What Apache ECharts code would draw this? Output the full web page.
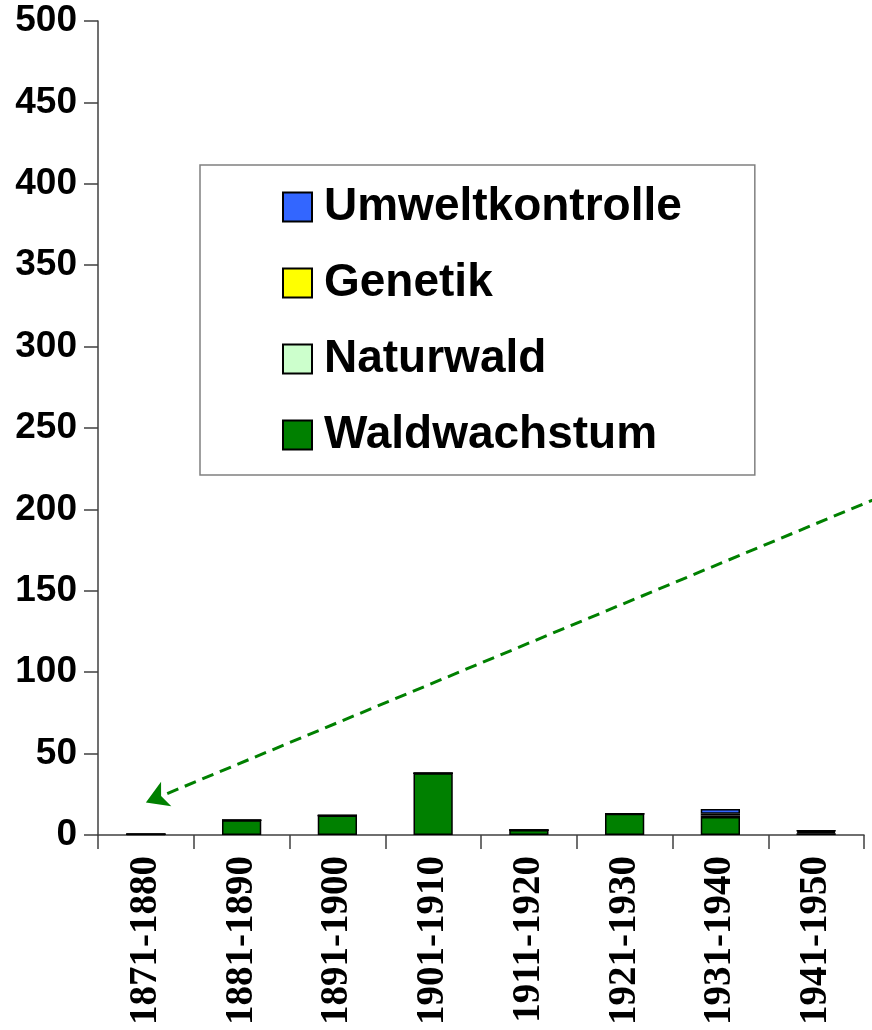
<!DOCTYPE html>
<html>
<head>
<meta charset="utf-8">
<script src="https://cdn.jsdelivr.net/npm/echarts@6/dist/echarts.min.js"></script>
<style>html,body{margin:0;padding:0;background:#fff;}#c{width:872px;height:1030px;}</style>
</head>
<body>
<div id="c"></div>
<script>
const categories = ['1871-1880','1881-1890','1891-1900','1901-1910','1911-1920','1921-1930','1931-1940','1941-1950'];
const waldwachstum = [0.5, 9, 12, 38, 3, 13, 11, 1];
const naturwald = [0, 0, 0, 0, 0, 0, 1, 0.8];
const genetik = [0, 0, 0, 0, 0, 0, 1, 0.8];
const umweltkontrolle = [0, 0, 0, 0, 0, 0, 3, 0];
const yTicks = [0, 50, 100, 150, 200, 250, 300, 350, 400, 450, 500];
const arrowEnd = ['1871-1880', 20];

const chart = echarts.init(document.getElementById('c'), null, {renderer: 'canvas'});
const border = {borderColor: '#000', borderWidth: 1.5};
function bar(name, data, color, extra) {
  return Object.assign({
    name, type: 'bar', stack: 'total', data, barWidth: '41%',
    itemStyle: Object.assign({color}, border),
    emphasis: {disabled: true}, animation: false
  }, extra || {});
}
chart.setOption({
  animation: false,
  grid: {left: 98, right: 8, top: 21, bottom: 195, containLabel: false, outerBoundsMode: 'none'},
  legend: {
    data: ['Umweltkontrolle', 'Genetik', 'Naturwald', 'Waldwachstum'],
    orient: 'vertical', left: 200, top: 165,
    padding: [19, 73, 17, 82],
    itemWidth: 29, itemHeight: 29, itemGap: 30,
    icon: 'rect',
    borderColor: '#808080', borderWidth: 1.5, backgroundColor: '#fff',
    textStyle: {fontFamily: 'Liberation Sans, Arial, sans-serif', fontWeight: 'bold', fontSize: 46, lineHeight: 46, color: '#000', padding: [0, 0, 0, 7]},
    selectedMode: false
  },
  xAxis: {
    type: 'category', data: categories,
    axisLine: {lineStyle: {color: '#404040', width: 1.5}},
    axisTick: {show: true, length: 14, lineStyle: {color: '#404040', width: 1.5}},
    axisLabel: {rotate: 90, margin: 21, fontFamily: 'Liberation Serif, Times New Roman, serif', fontWeight: 'bold', fontSize: 39, color: '#000'}
  },
  yAxis: {
    type: 'value', min: yTicks[0], max: yTicks[yTicks.length - 1], interval: yTicks[1] - yTicks[0],
    splitLine: {show: false},
    axisLine: {show: true, lineStyle: {color: '#404040', width: 1.5}},
    axisTick: {show: true, length: 14, lineStyle: {color: '#404040', width: 1.5}},
    axisLabel: {margin: 21, fontFamily: 'Liberation Sans, Arial, sans-serif', fontWeight: 'bold', fontSize: 37, color: '#000'}
  },
  series: [
    bar('Waldwachstum', waldwachstum, '#008000', {
      markLine: {
        silent: true, animation: false,
        symbol: ['none', 'arrow'], symbolSize: [20, 22],
        label: {show: false},
        lineStyle: {color: '#008000', width: 3, type: [12, 7]},
        data: [[{x: 880, y: 497}, {coord: arrowEnd}]]
      }
    }),
    bar('Naturwald', naturwald, '#CCFFCC'),
    bar('Genetik', genetik, '#FFFF00'),
    bar('Umweltkontrolle', umweltkontrolle, '#3366FF')
  ]
});
</script>
</body>
</html>
